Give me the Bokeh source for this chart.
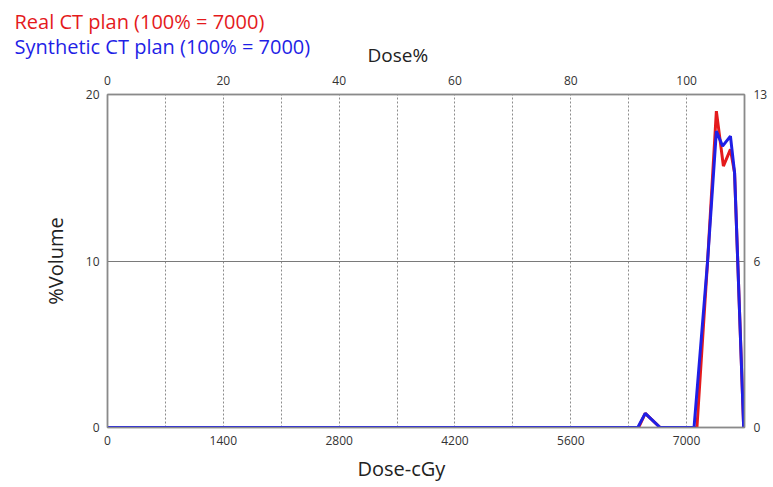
from bokeh.plotting import figure
from bokeh.models import (Range1d, LinearAxis, FixedTicker, Title)
from bokeh.embed import file_html
from bokeh.resources import INLINE

# ---- data ----
dose_real = [0, 6300, 6420, 6500, 6680, 7125, 7254, 7360, 7445, 7530, 7580, 7690]
vol_real = [0, 0, 0, 0.85, 0, 0, 10.0, 19.0, 15.7, 16.7, 15.3, 0]
dose_syn = [0, 6300, 6410, 6500, 6680, 7090, 7254, 7360, 7435, 7530, 7580, 7690]
vol_syn = [0, 0, 0, 0.85, 0, 0, 10.0, 17.8, 16.9, 17.5, 15.3, 0]

x_ticks = [0, 1400, 2800, 4200, 5600, 7000]
x_grid = [700, 1400, 2100, 2800, 3500, 4200, 4900, 5600, 6300, 7000]
pct_ticks = [0, 20, 40, 60, 80, 100]
y_ticks = [0, 10, 20]
right_labels = ["0", "6", "13"]

legend_real = "Real CT plan (100% = 7000)"
legend_syn = "Synthetic CT plan (100% = 7000)"

FONT = "Open Sans"
RED = "#e41a1c"
BLUE = "#1f1fe6"
W, H = 770, 487

p = figure(width=W, height=H, output_backend="svg", toolbar_location=None,
           x_range=Range1d(0, 7700), y_range=Range1d(0, 20),
           min_border_left=107, min_border_right=23, min_border_top=94,
           min_border_bottom=60, x_axis_location=None, y_axis_location=None)
p.extra_x_ranges = {"pct": Range1d(0, 110)}
p.outline_line_color = "#9a9a9a"
p.outline_line_width = 1.5

def style(ax, standoff):
    ax.major_tick_out = 0
    ax.major_tick_in = 0
    ax.minor_tick_out = 0
    ax.minor_tick_in = 0
    ax.axis_line_color = "#8a8a8a"
    ax.axis_line_width = 1.5
    ax.major_label_text_font = FONT
    ax.major_label_text_font_size = "12px"
    ax.major_label_text_color = "#333333"
    ax.major_label_standoff = standoff

bottom = LinearAxis(ticker=FixedTicker(ticks=x_ticks))
style(bottom, 8)
p.add_layout(bottom, "below")

left = LinearAxis(ticker=FixedTicker(ticks=y_ticks), axis_label="%Volume")
style(left, 8)
left.axis_label_text_font = FONT
left.axis_label_text_font_size = "20px"
left.axis_label_text_font_style = "normal"
left.axis_label_text_color = "#222222"
left.axis_label_standoff = 14
p.add_layout(left, "left")

# top axis; a blank axis label only reserves room above the tick labels
top = LinearAxis(x_range_name="pct", ticker=FixedTicker(ticks=pct_ticks), axis_label=" ")
style(top, 10)
top.axis_label_text_font = FONT
top.axis_label_text_font_size = "9px"
top.axis_label_standoff = 0
p.add_layout(top, "above")

right = LinearAxis(ticker=FixedTicker(ticks=y_ticks),
                   major_label_overrides={t: l for t, l in zip(y_ticks, right_labels)})
style(right, 9)
p.add_layout(right, "right")

p.xgrid.ticker = FixedTicker(ticks=x_grid)
p.xgrid.grid_line_color = "#8c8c8c"
p.xgrid.grid_line_dash = "2 2"
p.xgrid.grid_line_width = 1
p.ygrid.ticker = FixedTicker(ticks=[10])
p.ygrid.grid_line_color = "#7a7a7a"
p.ygrid.grid_line_width = 1

p.line(dose_real, vol_real, line_color=RED, line_width=3)
p.line(dose_syn, vol_syn, line_color=BLUE, line_width=3)

def title(text, size, color, offset, standoff):
    return Title(text=text, align="left", offset=offset, standoff=standoff,
                 text_font=FONT, text_font_size=size, text_color=color,
                 text_font_style="normal")

p.add_layout(title("Dose%", "19px", "#222222", 260, -22), "above")
p.add_layout(title(legend_syn, "20px", BLUE, -93, -18), "above")
p.add_layout(title(legend_real, "20px", RED, -93, 10), "above")
p.add_layout(title("Dose-cGy", "20px", "#222222", 250, 11), "below")

open("out.html", "w").write(file_html(p, INLINE))
